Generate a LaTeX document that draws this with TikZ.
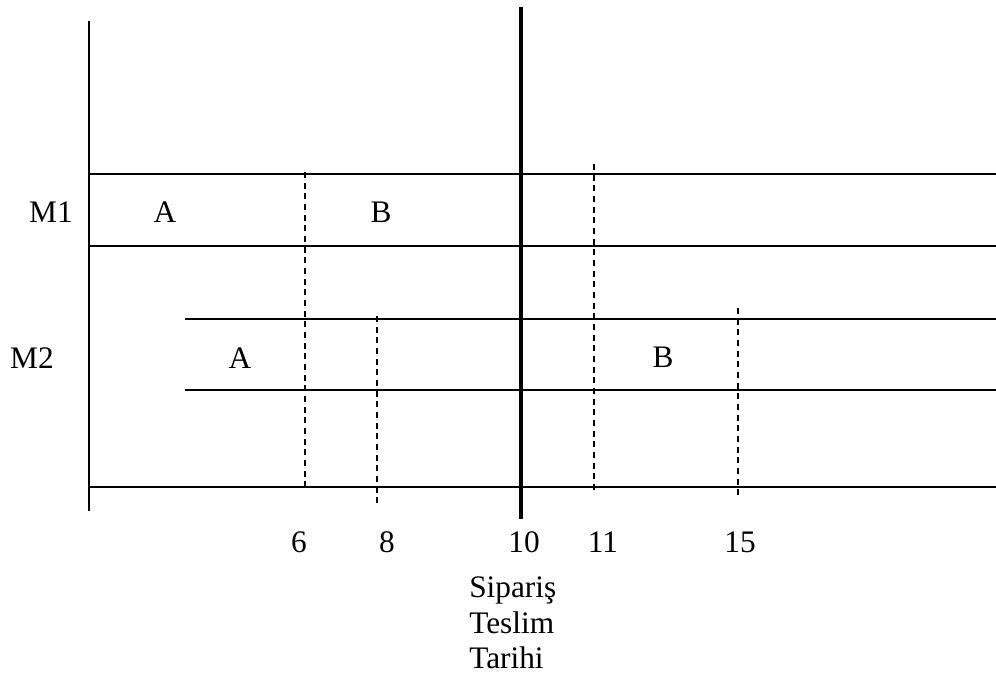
\documentclass[tikz,border=0pt]{standalone}
\usepackage{fontspec}
\setmainfont{Liberation Serif}
\begin{document}
\begin{tikzpicture}[x=0.75pt,y=-0.75pt,
  thin line/.style={line width=1.1pt},
  thick line/.style={line width=3.6pt},
  dash line/.style={line width=0.9pt,dash pattern=on 4.5pt off 3.5pt},
  lbl/.style={inner sep=0pt,font=\fontsize{23.5pt}{27pt}\selectfont}]
\useasboundingbox (0,0) rectangle (996,677);
% axis
\draw[thin line] (89,21) -- (89,511);
% horizontal rows
\draw[thin line] (89,174) -- (996,174);
\draw[thin line] (89,246) -- (996,246);
\draw[thin line] (185,319) -- (996,319);
\draw[thin line] (185,390) -- (996,390);
\draw[thin line] (89,487) -- (996,487);
% dashed markers
\draw[dash line] (305,172) -- (305,487);
\draw[dash line] (377,316) -- (377,506);
\draw[dash line] (594,164) -- (594,493);
\draw[dash line] (738,308) -- (738,498);
% order due date
\draw[thick line] (521,7) -- (521,519);
% labels
\node[lbl] (m1) at (51,212) {M1};
\node[lbl] (m1a) at (165,212) {A};
\node[lbl] (m1b) at (381,212) {B};
\node[lbl] (m2) at (32,358) {M2};
\node[lbl] (m2a) at (240,358) {A};
\node[lbl] (m2b) at (663,357) {B};
\node[lbl] (t6) at (299,542) {6};
\node[lbl] (t8) at (387,542) {8};
\node[lbl] (t10) at (524,542) {10};
\node[lbl] (t11) at (603,542) {11};
\node[lbl] (t15) at (740,542) {15};
\node[lbl,anchor=base west] (s1) at (469,597) {Sipariş};
\node[lbl,anchor=base west] (s2) at (469,633) {Teslim};
\node[lbl,anchor=base west] (s3) at (469,668) {Tarihi};
\end{tikzpicture}
\end{document}
